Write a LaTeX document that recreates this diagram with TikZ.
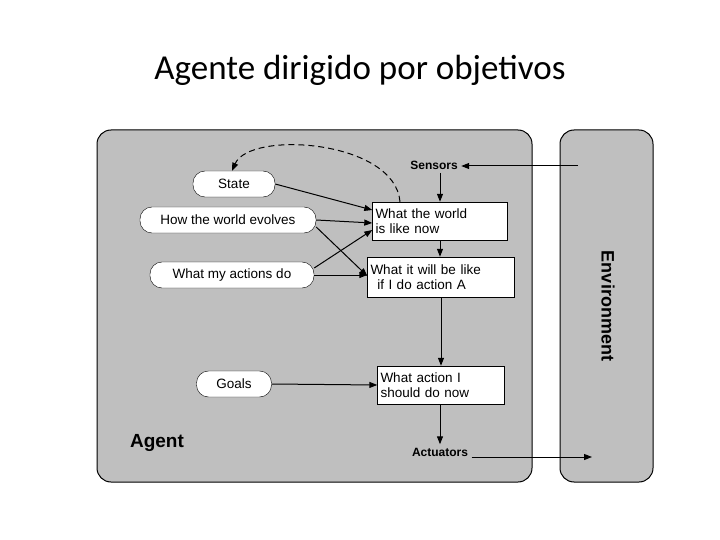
\documentclass[tikz,border=0pt]{standalone}
\usepackage{fontspec}
\setmainfont{Carlito}
\newfontfamily\hv{Liberation Sans}
\usetikzlibrary{arrows.meta}
\begin{document}
\begin{tikzpicture}[x=1pt,y=-1pt,
  oval/.style={draw,rounded corners=12pt,fill=white,minimum height=26pt,font=\hv\fontsize{13.5}{15}\selectfont,inner sep=2pt},
  box/.style={draw,fill=white,font=\hv\fontsize{13.5}{15}\selectfont,align=left,inner sep=3pt},
  lbl/.style={font=\hv\bfseries\fontsize{12}{14}\selectfont},
  arr/.style={-{Triangle[length=8pt,width=6pt]},line width=1pt}]
\useasboundingbox (0,0) rectangle (720,540);
\node[font=\fontsize{35}{40}\selectfont] (title) at (360,70) {Agente dirigido por objetivos};
\draw[fill=black!25,rounded corners=14pt,line width=1pt] (97,130) rectangle (532,482);
\draw[fill=black!25,rounded corners=14pt,line width=1pt] (560,130) rectangle (653,482);
\node[font=\hv\bfseries\fontsize{18}{20}\selectfont,rotate=-90] (env) at (608,306) {Environment};
\node[font=\hv\bfseries\fontsize{19}{20}\selectfont] (agent) at (157,443) {Agent};
\node[lbl] (sens) at (434,165) {Sensors};
\node[lbl] (act) at (440,452) {Actuators};
\node[oval,minimum width=82pt] (state) at (234,184) {State};
\node[oval,minimum width=176pt] (evol) at (228,220) {How the world evolves};
\node[oval,minimum width=164pt] (acts) at (232,275) {What my actions do};
\node[oval,minimum width=75pt] (goals) at (234,384) {Goals};
\node[box,text width=129pt,minimum height=38pt] (b1) at (440,221) {What the world\\is like now};
\node[box,text width=141pt,minimum height=40pt] (b2) at (441,277) {What it will be like\\\hspace*{0.5em}if I do action A};
\node[box,text width=121pt,minimum height=38pt] (b3) at (441,385) {What action I\\should do now};
\coordinate (ein) at (578,166);
\coordinate (eout) at (592,457);
\draw[arr] (ein) -- (sens.east |- ein);
\draw[arr] (sens.south -| b1.north) -- (b1.north);
\draw[arr] (state.east) -- (b1.west |- 0,210);
\draw[arr] (evol.east) -- (b1.west |- 0,223);
\draw[arr] (evol.east |- 0,227) -- (b2.west |- 0,276);
\draw[arr] (acts.east |- 0,268) -- (b1.west |- 0,230);
\draw[arr] (acts.east) -- (b2.west |- 0,275);
\draw[arr] (b1.south) -- (b2.north -| b1.south);
\draw[arr] (b2.south -| b3.north) -- (b3.north);
\draw[arr] (goals.east) -- (b3.west);
\draw[arr] (b3.south -| act.north) -- (act.north);
\draw[arr] (act.east |- eout) -- (eout);
\draw[arr,dash pattern=on 6pt off 4pt] (b1.north -| 400,0) .. controls (395,140) and (250,130) .. (state.north -| 232,0);
\end{tikzpicture}
\end{document}
